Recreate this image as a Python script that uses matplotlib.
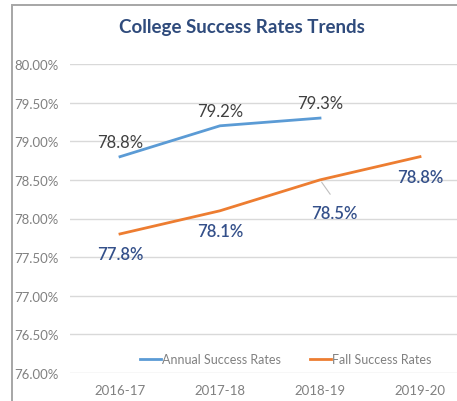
import matplotlib
matplotlib.use("Agg")
import matplotlib.pyplot as plt
from matplotlib.patches import Rectangle

years = ["2016-17", "2017-18", "2018-19", "2019-20"]
annual = [78.8, 79.2, 79.3]
fall = [77.8, 78.1, 78.5, 78.8]
yticks = [76.0, 76.5, 77.0, 77.5, 78.0, 78.5, 79.0, 79.5, 80.0]

plt.rcParams["font.family"] = ["Lato", "DejaVu Sans"]

fig = plt.figure(figsize=(4.57, 4.02), dpi=100)
fig.patch.set_facecolor("white")

# chart frame (cropped on the right / bottom like the screenshot)
fig.patches.append(Rectangle((12 / 457, -0.1), 1.2, 1.1 - 5.5 / 402, transform=fig.transFigure,
                             fill=False, edgecolor="#a6a6a6", linewidth=1.4))

ax = fig.add_axes([70 / 457, 28 / 402, 400 / 457, 309 / 402])
ax.set_facecolor("none")
x = list(range(len(years)))

ax.plot(x[:len(annual)], annual, color="#5B9BD5", linewidth=2, label="Annual Success Rates")
ax.plot(x, fall, color="#ED7D31", linewidth=2, label="Fall Success Rates")

for i, v in enumerate(annual):
    ax.annotate(f"{v:.1f}%", (i, v), xytext=(0, 5), textcoords="offset points",
                ha="center", va="bottom", fontsize=12, color="#404040")
for i, v in enumerate(fall):
    dx, dy = (10, -18) if i == 2 else (0, -9)
    ax.annotate(f"{v:.1f}%", (i, v), xytext=(dx, dy), textcoords="offset points",
                ha="center", va="top", fontsize=12, color="#34508A", fontweight="semibold")
# leader line for the moved label
ax.annotate("", (2, fall[2]), xytext=(8.5, -12), textcoords="offset points",
            arrowprops=dict(arrowstyle="-", color="#bfbfbf", linewidth=0.8))

ax.set_xlim(-0.5, len(years) - 0.5)
ax.set_ylim(76, 80)
ax.set_xticks(x)
ax.set_xticklabels(years)
ax.set_yticks(yticks)
ax.set_yticklabels([f"{t:.2f}%" for t in yticks])
ax.tick_params(axis="both", length=0, labelsize=9.5, labelcolor="#808080")
ax.tick_params(axis="y", pad=8)
ax.tick_params(axis="x", pad=8)
ax.grid(axis="y", color="#d9d9d9", linewidth=1)
ax.set_axisbelow(True)
for s in ax.spines.values():
    s.set_visible(False)

ax.legend(loc="lower left", bbox_to_anchor=(0.155, 0.0), ncol=2, frameon=False,
          fontsize=9, labelcolor="#808080", handlelength=1.7, handletextpad=0.1,
          columnspacing=2.3, borderaxespad=0.2)

fig.text(242 / 457, 1 - 27 / 402, "College Success Rates Trends", ha="center", va="center",
         fontsize=13.5, fontweight="bold", color="#2F4B7C")

fig.savefig("out.png", dpi=100)
